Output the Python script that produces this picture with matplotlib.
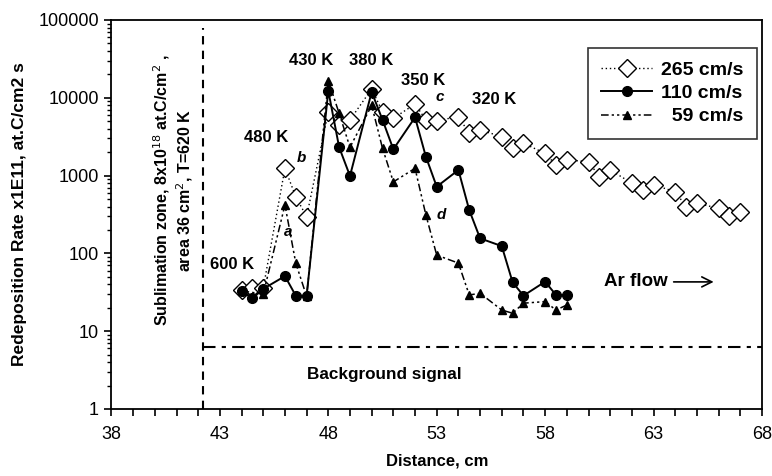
import matplotlib
matplotlib.use('Agg')
import matplotlib.pyplot as plt
from matplotlib.ticker import FixedLocator, MultipleLocator, LogLocator, NullFormatter

plt.rcParams['font.family'] = ['Liberation Sans', 'DejaVu Sans']

# 265 cm/s (open diamonds, dotted)
x_265 = [44, 44.5, 45, 46, 46.5, 47, 48, 48.5, 49, 50, 50.5, 51, 52, 52.5, 53,
         54, 54.5, 55, 56, 56.5, 57, 58, 58.5, 59, 60, 60.5, 61, 62, 62.5, 63,
         64, 64.5, 65, 66, 66.5, 67]
y_265 = [34, 36, 36, 1240, 535, 296, 6600, 4500, 5200, 13000, 6600, 5450, 8300, 5200, 5100,
         5700, 3500, 3850, 3170, 2240, 2600, 1930, 1370, 1590, 1510, 970, 1180, 800, 650, 760,
         620, 400, 440, 380, 300, 345]

# 110 cm/s (filled circles, solid)
x_110 = [44, 44.5, 45, 46, 46.5, 47, 48, 48.5, 49, 50, 50.5, 51, 52, 52.5, 53,
         54, 54.5, 55, 56, 56.5, 57, 58, 58.5, 59]
y_110 = [33, 26.5, 35, 51, 28.6, 28.6, 12300, 2310, 990, 11900, 5200, 2180, 5600, 1750, 720,
         1180, 360, 156, 124, 42.5, 28.6, 43.3, 29.2, 29.2]

# 59 cm/s (filled triangles, dash-dot-dot)
x_59 = [44, 45, 46, 46.5, 47, 48, 48.5, 49, 50, 50.5, 51, 52, 52.5, 53,
        54, 54.5, 55, 56, 56.5, 57, 58, 58.5, 59]
y_59 = [33, 30, 420, 75, 28, 16600, 6300, 2310, 8000, 2240, 830, 1240, 312, 95,
        75, 29.2, 30.7, 18.7, 17, 22.9, 24, 18.7, 21.7]

sublimation_x = 42.2
sublimation_top = 8e4
background_level = 6.3

temp_labels = ['600 K', '480 K', '430 K', '380 K', '350 K', '320 K']
temp_x = [43.55, 45.12, 47.23, 49.99, 52.37, 55.67]
temp_y = [71, 3130, 30600, 30600, 16900, 9370]
letters = ['a', 'b', 'c', 'd']
letter_x = [46.15, 46.77, 53.14, 53.22]
letter_y = [190, 1670, 10300, 312]

fig = plt.figure(figsize=(7.72, 4.76), dpi=100)
ax = fig.add_axes([0.1444, 0.1408, 0.8426, 0.8172])

ax.plot(x_265, y_265, linestyle=(0, (1, 2)), color='black', linewidth=1.0,
        marker='D', markersize=9, markerfacecolor='white', markeredgecolor='black',
        markeredgewidth=1.0, label='265 cm/s', zorder=3)
ax.plot(x_110, y_110, linestyle='-', color='black', linewidth=1.4,
        marker='o', markersize=7, markerfacecolor='black', markeredgecolor='black',
        label='110 cm/s', zorder=4)
ax.plot(x_59, y_59, linestyle=(0, (5, 2, 1.5, 2, 1.5, 2)), color='black', linewidth=1.1,
        marker='^', markersize=5.5, markerfacecolor='black', markeredgecolor='black',
        label='  59 cm/s', zorder=5)

# reference lines
ax.plot([sublimation_x, sublimation_x], [1, sublimation_top], color='black',
        linestyle=(0, (4, 3)), linewidth=1.5)
ax.plot([sublimation_x, 68], [background_level, background_level], color='black',
        linestyle=(0, (6, 3, 2, 3)), linewidth=1.5)

ax.set_yscale('log')
ax.set_xlim(38, 68)
ax.set_ylim(1, 100000)

ax.xaxis.set_major_locator(FixedLocator([38, 43, 48, 53, 58, 63, 68]))
ax.xaxis.set_minor_locator(MultipleLocator(1))
ax.yaxis.set_minor_locator(LogLocator(base=10, subs=range(2, 10), numticks=10))
ax.yaxis.set_minor_formatter(NullFormatter())
ax.set_yticks([1, 10, 100, 1000, 10000, 100000])
ax.set_yticklabels(['1', '10', '100', '1000', '10000', '100000'])

ax.tick_params(axis='both', which='major', direction='out', length=5, width=1.2,
               labelsize=13, top=False, right=False)
ax.tick_params(axis='x', which='minor', direction='out', length=5, width=1.2)
ax.tick_params(axis='y', which='minor', direction='out', length=3, width=1.0)
ax.tick_params(axis='x', pad=7)
ax.tick_params(axis='y', pad=4)
for s in ax.spines.values():
    s.set_linewidth(1.3)

ax.set_xlabel('Distance, cm', fontsize=12, fontweight='bold', labelpad=8)
ax.set_ylabel('Redeposition Rate x1E11, at.C/cm2 s', fontsize=12.5, fontweight='bold', labelpad=8)

for t, x, y in zip(temp_labels, temp_x, temp_y):
    ax.text(x, y, t, fontsize=12, fontweight='bold', ha='center', va='center')
for t, x, y in zip(letters, letter_x, letter_y):
    ax.text(x, y, t, fontsize=11, fontweight='bold', style='italic', ha='center', va='center')

ax.text(40.83, 650, 'Sublimation zone, 8x10$^{18}$ at.C/cm$^{2}$ ,\narea 36 cm$^{2}$, T=620 K',
        fontsize=11.5, fontweight='bold', rotation=90,
        ha='center', va='center', multialignment='center', linespacing=1.15)

ax.text(50.6, 2.74, 'Background signal', fontsize=12.3, fontweight='bold', ha='center', va='center')
ax.text(62.2, 43, 'Ar flow', fontsize=13.5, fontweight='bold', ha='center', va='center')
ax.annotate('', xy=(65.9, 43), xytext=(63.8, 43),
            arrowprops=dict(arrowstyle='->', color='black', lw=1.2, mutation_scale=18))

leg = ax.legend(loc='upper right', bbox_to_anchor=(0.992, 0.928),
                prop={'weight': 'bold', 'size': 14}, frameon=True, fancybox=False,
                edgecolor='black', handlelength=2.6, borderpad=0.7, labelspacing=0.28,
                handletextpad=0.45, borderaxespad=0.0)
leg.get_frame().set_linewidth(1.2)

fig.savefig('out.png', dpi=100)
